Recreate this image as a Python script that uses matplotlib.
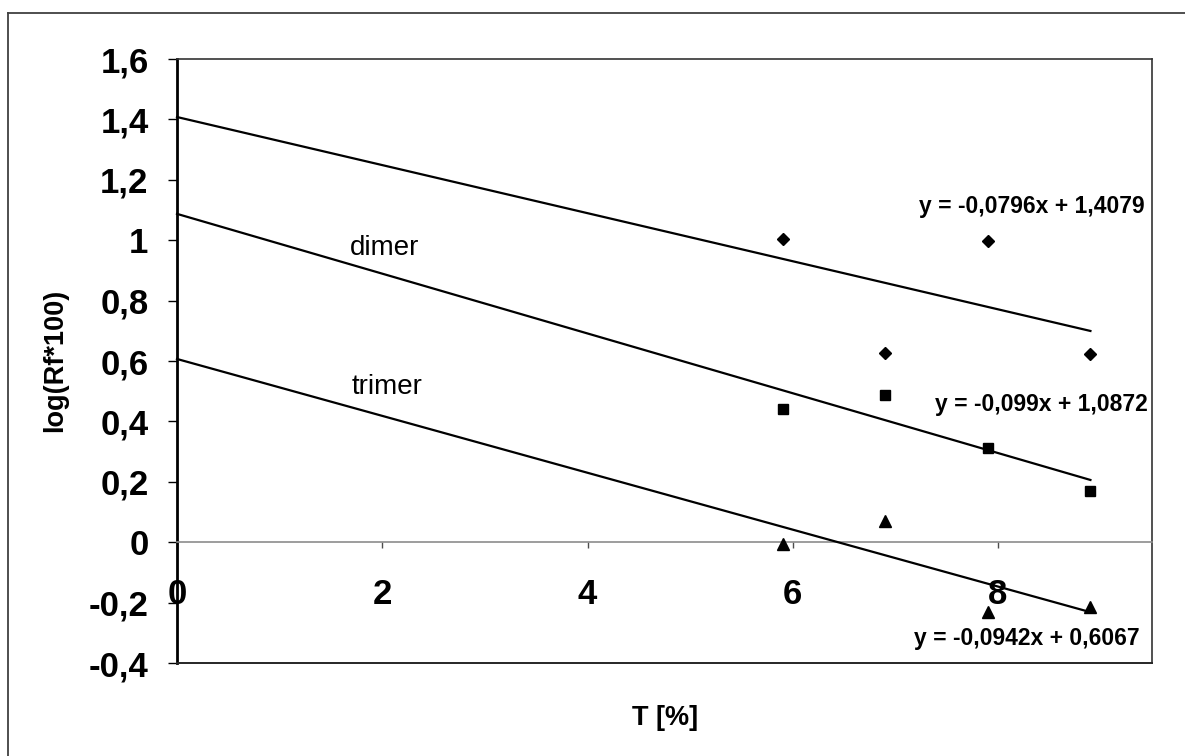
import matplotlib
matplotlib.use("Agg")
import matplotlib.pyplot as plt
from matplotlib.lines import Line2D
import numpy as np

plt.rcParams['font.family'] = ['Liberation Sans', 'DejaVu Sans']

# Gel concentration T [%] for the measured spots
t_values = [5.9, 6.9, 7.9, 8.9]

# log(Rf*100) per species
monomer = [1.003, 0.628, 0.996, 0.624]
dimer = [0.442, 0.486, 0.312, 0.171]
trimer = [-0.005, 0.069, -0.230, -0.215]

# Linear trend lines (slope, intercept) and their equation labels
fit_monomer = (-0.0796, 1.4079)
fit_dimer = (-0.099, 1.0872)
fit_trimer = (-0.0942, 0.6067)
eq_monomer = "y = -0,0796x + 1,4079"
eq_dimer = "y = -0,099x + 1,0872"
eq_trimer = "y = -0,0942x + 0,6067"

x_ticks = [0, 2, 4, 6, 8]
x_tick_labels = ["0", "2", "4", "6", "8"]
y_ticks = [-0.4, -0.2, 0, 0.2, 0.4, 0.6, 0.8, 1.0, 1.2, 1.4, 1.6]
y_tick_labels = ["-0,4", "-0,2", "0", "0,2", "0,4", "0,6", "0,8", "1", "1,2", "1,4", "1,6"]

W, H = 1185, 756
fig = plt.figure(figsize=(W / 100, H / 100), dpi=100)
fig.patch.set_facecolor('white')

# plot area in pixel coordinates
left_px, right_px, top_px, bottom_px = 177, 1152, 59, 663
ax = fig.add_axes([left_px / W, 1 - bottom_px / H,
                   (right_px - left_px) / W, (bottom_px - top_px) / H])

ax.set_xlim(0, 9.5)
ax.set_ylim(-0.4, 1.6)

# scatter points
ax.plot(t_values, monomer, linestyle='none', marker='D', ms=6.2, color='black', zorder=4)
ax.plot(t_values, dimer, linestyle='none', marker='s', ms=7.4, color='black', zorder=4)
ax.plot(t_values, trimer, linestyle='none', marker='^', ms=8.5, color='black', zorder=4)

# trend lines from T = 0 up to the last measured point
xs = np.array([0.0, max(t_values)])
for slope, icpt in (fit_monomer, fit_dimer, fit_trimer):
    ax.plot(xs, slope * xs + icpt, color='black', lw=1.6, zorder=3, clip_on=False)

# equations
eq_kw = dict(fontsize=16.5, fontweight='bold', ha='right', va='center', color='black')
ax.annotate(eq_monomer, xy=(1145, H - 207), xycoords='figure pixels', **eq_kw)
ax.annotate(eq_dimer, xy=(1148, H - 405), xycoords='figure pixels', **eq_kw)
ax.annotate(eq_trimer, xy=(1140, H - 638), xycoords='figure pixels', **eq_kw)

# series labels
ax.annotate("dimer", xy=(350, H - 248), xycoords='figure pixels', fontsize=20,
            ha='left', va='center')
ax.annotate("trimer", xy=(352, H - 387), xycoords='figure pixels', fontsize=20,
            ha='left', va='center')

# spines: y axis at x=0, x axis at y=0, frame around plot area
for side in ('top', 'right'):
    ax.spines[side].set_color('0.2')
    ax.spines[side].set_linewidth(1.2)
ax.spines['left'].set_color('black')
ax.spines['left'].set_linewidth(2.0)
ax.spines['bottom'].set_position(('data', 0))
ax.spines['bottom'].set_color('0.55')
ax.spines['bottom'].set_linewidth(1.2)
ax.add_line(Line2D([0, 1], [0, 0], transform=ax.transAxes, color='0.15',
                   lw=1.4, clip_on=False, zorder=5))

ax.set_xticks(x_ticks)
ax.set_xticklabels(x_tick_labels, fontsize=25, fontweight='bold')
ax.set_yticks(y_ticks)
ax.set_yticklabels(y_tick_labels, fontsize=25, fontweight='bold')
ax.tick_params(axis='x', direction='out', length=4, width=1, color='0.3', pad=22)
ax.tick_params(axis='y', direction='out', length=6.5, width=1, color='black', pad=14)

# axis titles
fig.text(55 / W, 1 - 360 / H, "log(Rf*100)", rotation=90, fontsize=19.5,
         fontweight='bold', ha='center', va='center')
fig.text(665 / W, 1 - 718 / H, "T [%]", fontsize=19.5, fontweight='bold',
         ha='center', va='center')

# outer chart border (open to the right and bottom)
fig.add_artist(Line2D([8 / W, 8 / W], [0, 1 - 13 / H], transform=fig.transFigure,
                      color='0.25', lw=1.3))
fig.add_artist(Line2D([8 / W, 1], [1 - 13 / H, 1 - 13 / H], transform=fig.transFigure,
                      color='0.25', lw=1.3))

fig.savefig("out.png", dpi=100, facecolor='white')
